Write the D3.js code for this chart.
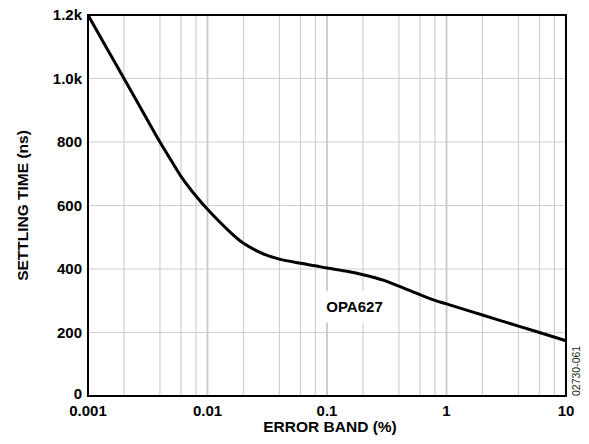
<!DOCTYPE html>
<html>
<head>
<meta charset="utf-8">
<script src="https://cdn.jsdelivr.net/npm/d3@7"></script>
<style>
  body { margin: 0; background: #fff; }
  text { font-family: "Liberation Sans", Arial, sans-serif; }
</style>
</head>
<body>
<div id="graph"></div>
<script>
// Data
const errorBand = [0.001, 0.0015, 0.002, 0.003, 0.004, 0.005, 0.006, 0.008, 0.01, 0.015, 0.02, 0.03, 0.04, 0.06, 0.08,
  0.1, 0.15, 0.2, 0.3, 0.4, 0.6, 0.8, 1, 2, 4, 6, 10];
const settlingTime = [1200, 1083, 1000, 883, 800, 740, 692, 630, 588, 521, 481, 446, 431, 418, 410,
  403, 392, 382, 364, 346, 319, 301, 290, 255, 220, 200, 174];
const xTicks = [0.001, 0.01, 0.1, 1, 10];
const xTickLabels = ['0.001', '0.01', '0.1', '1', '10'];
const yTicks = [0, 200, 400, 600, 800, 1000, 1200];
const yTickLabels = ['0', '200', '400', '600', '800', '1.0k', '1.2k'];
const minorMults = [2, 4, 6, 8];

// Layout
const W = 589, H = 444;
const margin = { top: 15, right: 23, bottom: 48, left: 88 };
const width = W - margin.left - margin.right;
const height = H - margin.top - margin.bottom;

const svg = d3.select('#graph')
  .append('svg')
  .attr('width', W)
  .attr('height', H);

const g = svg.append('g')
  .attr('transform', `translate(${margin.left}, ${margin.top})`);

// Scales
const xScale = d3.scaleLog().domain([0.001, 10]).range([0, width]);
const yScale = d3.scaleLinear().domain([0, 1200]).range([height, 0]);

// Grid lines
const minorX = [];
xTicks.slice(0, -1).forEach(d => minorMults.forEach(m => minorX.push(d * m)));

g.selectAll('.minor-grid')
  .data(minorX)
  .enter().append('line')
  .attr('x1', d => xScale(d)).attr('x2', d => xScale(d))
  .attr('y1', 0).attr('y2', height)
  .attr('stroke', '#cfcfcf')
  .attr('stroke-width', 1.2);

g.selectAll('.major-grid')
  .data(xTicks.slice(1, -1))
  .enter().append('line')
  .attr('x1', d => xScale(d)).attr('x2', d => xScale(d))
  .attr('y1', 0).attr('y2', height)
  .attr('stroke', '#c8c8c8')
  .attr('stroke-width', 1.8);

g.selectAll('.y-grid')
  .data(yTicks.slice(1, -1))
  .enter().append('line')
  .attr('x1', 0).attr('x2', width)
  .attr('y1', d => yScale(d)).attr('y2', d => yScale(d))
  .attr('stroke', '#cfcfcf')
  .attr('stroke-width', 1.2);

// Curve
const line = d3.line()
  .x((d, i) => xScale(errorBand[i]))
  .y(d => yScale(d))
  .curve(d3.curveCatmullRom.alpha(0.5));

// Label with white backing
const lx = xScale(0.17), ly = yScale(265);
g.append('rect')
  .attr('x', lx - 34).attr('y', ly - 21)
  .attr('width', 68).attr('height', 32)
  .attr('fill', '#fff');
g.append('text')
  .attr('x', lx).attr('y', ly)
  .attr('text-anchor', 'middle')
  .attr('font-size', 15)
  .attr('font-weight', 'bold')
  .text('OPA627');

g.append('path')
  .datum(settlingTime)
  .attr('fill', 'none')
  .attr('stroke', '#000')
  .attr('stroke-width', 3)
  .attr('stroke-linejoin', 'round')
  .attr('d', line);

// Frame
g.append('rect')
  .attr('x', 0).attr('y', 0)
  .attr('width', width).attr('height', height)
  .attr('fill', 'none')
  .attr('stroke', '#000')
  .attr('stroke-width', 2);

// Tick labels
g.selectAll('.ytl')
  .data(yTicks)
  .enter().append('text')
  .attr('x', -6)
  .attr('y', d => yScale(d))
  .attr('dy', d => d === 0 ? '0.2em' : '0.36em')
  .attr('text-anchor', 'end')
  .attr('font-size', 15)
  .attr('font-weight', 'bold')
  .text((d, i) => yTickLabels[i]);

g.selectAll('.xtl')
  .data(xTicks)
  .enter().append('text')
  .attr('x', d => xScale(d))
  .attr('y', height + 20)
  .attr('text-anchor', 'middle')
  .attr('font-size', 15)
  .attr('font-weight', 'bold')
  .text((d, i) => xTickLabels[i]);

// Axis titles
g.append('text')
  .attr('x', width / 2 + 3)
  .attr('y', height + 36)
  .attr('text-anchor', 'middle')
  .attr('font-size', 15.5)
  .attr('font-weight', 'bold')
  .text('ERROR BAND (%)');

svg.append('text')
  .attr('transform', `translate(28, ${margin.top + height / 2}) rotate(-90)`)
  .attr('text-anchor', 'middle')
  .attr('font-size', 15.5)
  .attr('font-weight', 'bold')
  .text('SETTLING TIME (ns)');

// Figure id
svg.append('text')
  .attr('transform', `translate(580, ${margin.top + height}) rotate(-90)`)
  .attr('text-anchor', 'start')
  .attr('font-size', 10.5)
  .attr('fill', '#222')
  .text('02730-061');
</script>
</body>
</html>
